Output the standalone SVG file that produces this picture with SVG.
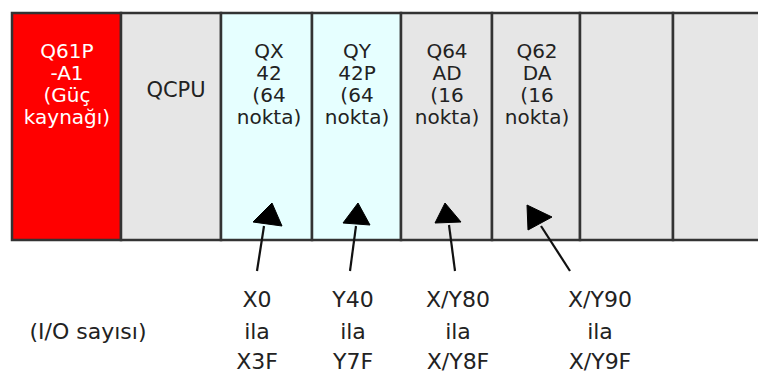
<svg xmlns="http://www.w3.org/2000/svg" width="758" height="373" viewBox="0 0 758 373">
<style>
.cell{stroke:#333;stroke-width:2.5}
.red{fill:#ff0000}
.grey{fill:#e6e6e6}
.cyan{fill:#e6ffff}
.t{font-family:"DejaVu Sans",sans-serif;font-size:20px;fill:#222;text-anchor:middle}
.w{fill:#fff}
.b{font-family:"DejaVu Sans",sans-serif;font-size:22px;fill:#222;text-anchor:middle}
.ln{stroke:#111;stroke-width:2.2;fill:none}
.ah{fill:#000;stroke:#000;stroke-width:1;stroke-linejoin:round}
</style>
<rect width="758" height="373" fill="#fff"/>
<g id="power">
<rect class="cell red" x="12" y="13" width="109" height="227"/>
<text class="t w" x="67" y="58">Q61P</text>
<text class="t w" x="67" y="80">-A1</text>
<text class="t w" x="67" y="102">(Güç</text>
<text class="t w" x="67" y="124">kaynağı)</text>
</g>
<g id="qcpu">
<rect class="cell grey" x="121" y="13" width="100" height="227"/>
<text class="t" x="176" y="97" style="font-size:21px">QCPU</text>
</g>
<g id="qx42">
<rect class="cell cyan" x="221" y="13" width="91" height="227"/>
<text class="t" x="269" y="58">QX</text>
<text class="t" x="269" y="80">42</text>
<text class="t" x="269" y="102">(64</text>
<text class="t" x="269" y="124">nokta)</text>
</g>
<g id="qy42p">
<rect class="cell cyan" x="312" y="13" width="89" height="227"/>
<text class="t" x="357" y="58">QY</text>
<text class="t" x="357" y="80">42P</text>
<text class="t" x="357" y="102">(64</text>
<text class="t" x="357" y="124">nokta)</text>
</g>
<g id="q64ad">
<rect class="cell grey" x="401" y="13" width="91" height="227"/>
<text class="t" x="447" y="58">Q64</text>
<text class="t" x="447" y="80">AD</text>
<text class="t" x="447" y="102">(16</text>
<text class="t" x="447" y="124">nokta)</text>
</g>
<g id="q62da">
<rect class="cell grey" x="492" y="13" width="88" height="227"/>
<text class="t" x="537" y="58">Q62</text>
<text class="t" x="537" y="80">DA</text>
<text class="t" x="537" y="102">(16</text>
<text class="t" x="537" y="124">nokta)</text>
</g>
<g id="slot7">
<rect class="cell grey" x="580" y="13" width="93" height="227"/>
</g>
<g id="slot8">
<path class="grey" d="M673 13H760V240H673Z"/>
<path class="cell" fill="none" d="M760 13H673V240H760"/>
</g>
<g id="connectors">
<line class="ln" x1="257" y1="271" x2="264" y2="226"/>
<polygon class="ah" points="272,203 253,222 282,226"/>
<line class="ln" x1="350" y1="271" x2="356" y2="226"/>
<polygon class="ah" points="358,203 343,223 370,225"/>
<line class="ln" x1="455" y1="271" x2="449" y2="225"/>
<polygon class="ah" points="445,203 435,223 461,222"/>
<line class="ln" x1="570" y1="271" x2="541" y2="226"/>
<polygon class="ah" points="527,205 552,217 528,230"/>
</g>
<g id="labels">
<text class="b" x="88" y="339">(I/O sayısı)</text>
<text class="b" x="257" y="307">X0</text>
<text class="b" x="257" y="339">ila</text>
<text class="b" x="257" y="369">X3F</text>
<text class="b" x="353" y="307">Y40</text>
<text class="b" x="353" y="339">ila</text>
<text class="b" x="353" y="369">Y7F</text>
<text class="b" x="458" y="307">X/Y80</text>
<text class="b" x="458" y="339">ila</text>
<text class="b" x="458" y="369">X/Y8F</text>
<text class="b" x="600" y="307">X/Y90</text>
<text class="b" x="600" y="339">ila</text>
<text class="b" x="600" y="369">X/Y9F</text>
</g>
</svg>
